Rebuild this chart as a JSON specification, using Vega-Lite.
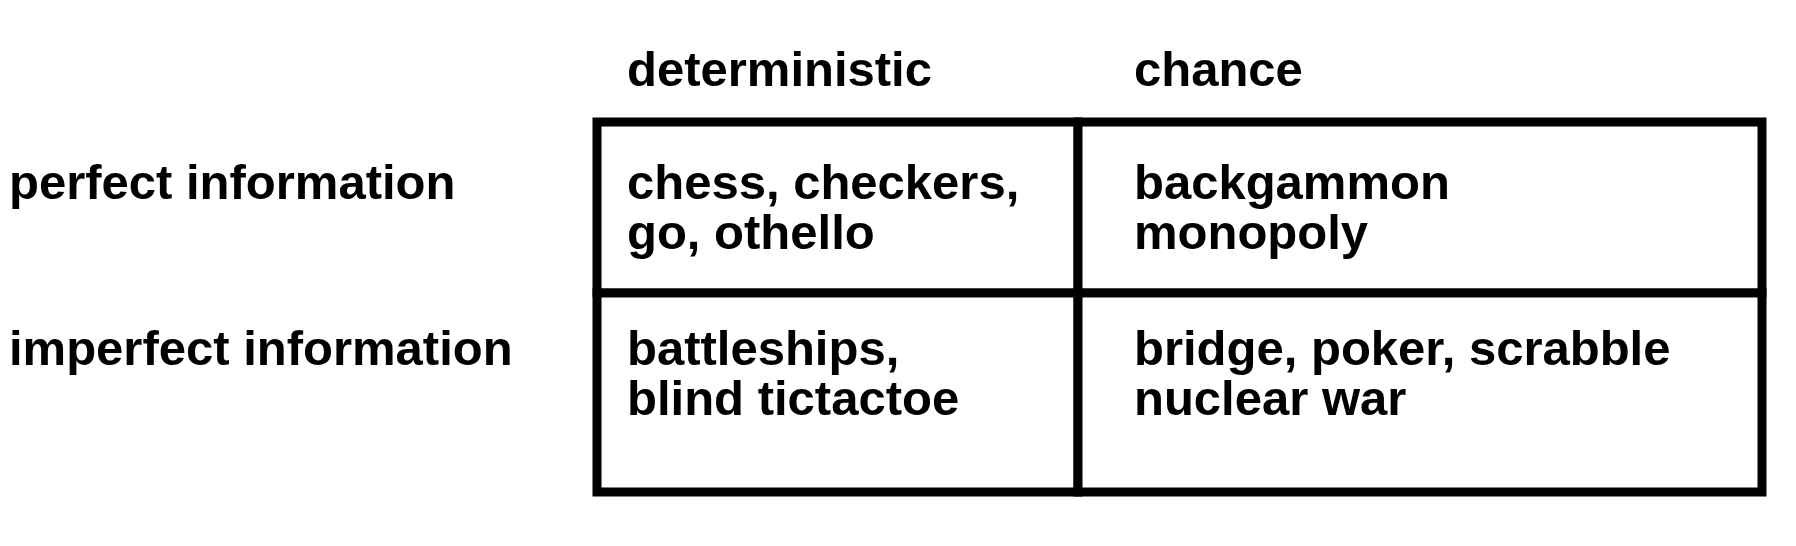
{
"$schema":"https://vega.github.io/schema/vega-lite/v6.json",
"width":1796,"height":546,
"autosize":{"type":"fit","contains":"padding"},
"padding":0,
"config":{"view":{"stroke":null}},
"layer":[
{"data":{"values":[
{"c":"det","r":"perfect","x":597,"x2":1078,"y":122,"y2":293},
{"c":"chance","r":"perfect","x":1078,"x2":1762,"y":122,"y2":293},
{"c":"det","r":"imperfect","x":597,"x2":1078,"y":293,"y2":492},
{"c":"chance","r":"imperfect","x":1078,"x2":1762,"y":293,"y2":492}]},
"mark":{"type":"rect","fill":"white","stroke":"black","strokeWidth":9},
"encoding":{
"x":{"field":"x","type":"quantitative","scale":{"domain":[0,1796]},"axis":null},
"x2":{"field":"x2"},
"y":{"field":"y","type":"quantitative","scale":{"domain":[0,546],"reverse":true},"axis":null},
"y2":{"field":"y2"}}},
{"data":{"values":[
{"t":"deterministic","x":627,"y":71},
{"t":"chance","x":1134,"y":71},
{"t":"perfect information","x":9,"y":184},
{"t":"imperfect information","x":9,"y":350},
{"t":"chess, checkers,","x":627,"y":184},
{"t":"go, othello","x":627,"y":234},
{"t":"backgammon","x":1134,"y":184},
{"t":"monopoly","x":1134,"y":234},
{"t":"battleships,","x":627,"y":350},
{"t":"blind tictactoe","x":627,"y":400},
{"t":"bridge, poker, scrabble","x":1134,"y":350},
{"t":"nuclear war","x":1134,"y":400}]},
"mark":{"type":"text","align":"left","baseline":"middle","font":"Liberation Sans","fontWeight":"bold","fontSize":49,"color":"black"},
"encoding":{
"x":{"field":"x","type":"quantitative","scale":{"domain":[0,1796]},"axis":null},
"y":{"field":"y","type":"quantitative","scale":{"domain":[0,546],"reverse":true},"axis":null},
"text":{"field":"t"}}}
]}
